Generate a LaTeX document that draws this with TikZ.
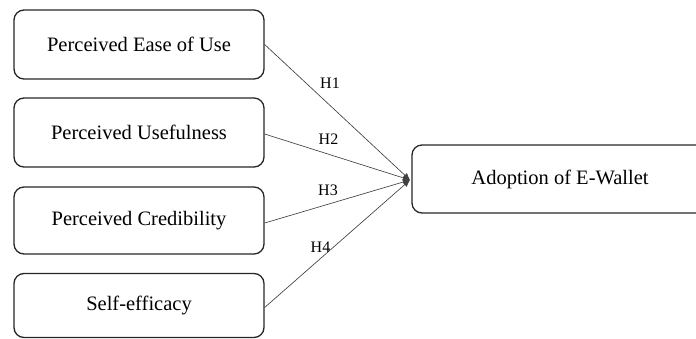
\documentclass[tikz,border=0pt]{standalone}
\usepackage{fontspec}
\setmainfont{Liberation Serif}
\usetikzlibrary{arrows.meta}
\begin{document}
\begin{tikzpicture}[x=1pt,y=-1pt,
  box/.style={draw=black!85, line width=1.3pt, rounded corners=10pt, minimum width=250pt, inner sep=0pt, font=\fontsize{20.5}{24}\selectfont},
  link/.style={draw=black!75, line width=0.65pt, -{Latex[length=7pt,width=6pt]}},
  hlab/.style={inner sep=0pt, font=\fontsize{16}{19}\selectfont}]
\useasboundingbox (0,0) rectangle (696,338);
\clip (0,0) rectangle (696,338);
\node[box, minimum height=69pt] (a) at (139,44.5) {Perceived Ease of Use};
\node[box, minimum height=69pt] (b) at (139,132.5) {Perceived Usefulness};
\node[box, minimum height=67pt] (c) at (139,220.5) {Perceived Credibility};
\node[box, minimum height=64pt] (d) at (139,305.5) {Self-efficacy};
\node[box, minimum width=296pt, minimum height=68pt] (e) at (560,179) {Adoption of E-Wallet};
\coordinate (t) at (410,180);
\draw[link] (a.east) -- (t);
\draw[link] ([yshift=-1.5pt]b.east) -- (t);
\draw[link] ([yshift=-2.5pt]c.east) -- (t);
\draw[link] ([yshift=-2pt]d.east) -- (t);
\node[hlab] (h1) at (330,83) {H1};
\node[hlab] (h2) at (328.5,139) {H2};
\node[hlab] (h3) at (328,190) {H3};
\node[hlab] (h4) at (320.5,247) {H4};
\end{tikzpicture}
\end{document}
